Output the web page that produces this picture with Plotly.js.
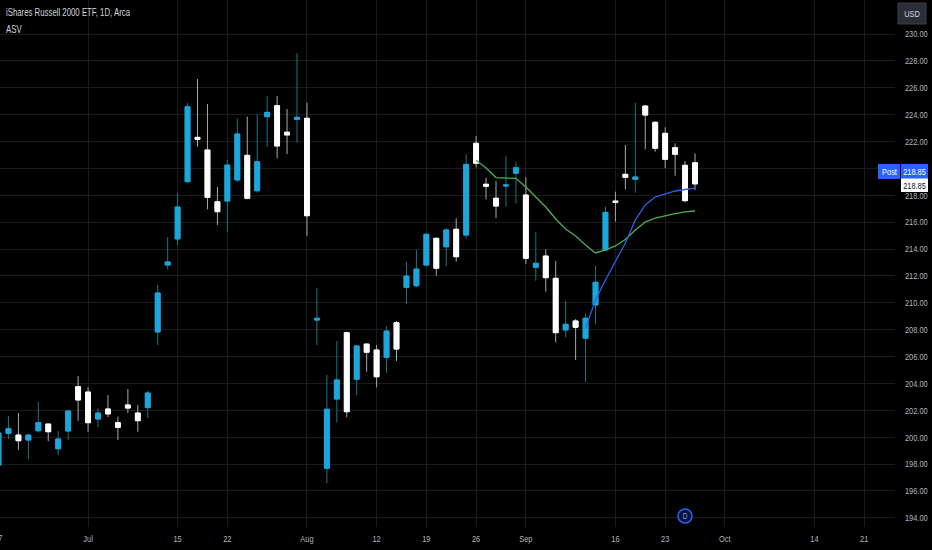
<!DOCTYPE html>
<html><head><meta charset="utf-8">
<script src="https://cdn.plot.ly/plotly-3.0.1.min.js"></script>
<style>html,body{margin:0;padding:0;background:#000;}#chart{width:932px;height:550px;}</style>
</head><body><div id="chart"></div>
<script>
// Trading days (index = position on the time axis)
const dates = ['2024-06-17','2024-06-18','2024-06-20','2024-06-21','2024-06-24','2024-06-25','2024-06-26','2024-06-27','2024-06-28',
'2024-07-01','2024-07-02','2024-07-03','2024-07-05','2024-07-08','2024-07-09','2024-07-10','2024-07-11','2024-07-12',
'2024-07-15','2024-07-16','2024-07-17','2024-07-18','2024-07-19','2024-07-22','2024-07-23','2024-07-24','2024-07-25','2024-07-26',
'2024-07-29','2024-07-30','2024-07-31','2024-08-01','2024-08-02','2024-08-05','2024-08-06','2024-08-07','2024-08-08','2024-08-09',
'2024-08-12','2024-08-13','2024-08-14','2024-08-15','2024-08-16','2024-08-19','2024-08-20','2024-08-21','2024-08-22','2024-08-23',
'2024-08-26','2024-08-27','2024-08-28','2024-08-29','2024-08-30','2024-09-03','2024-09-04','2024-09-05','2024-09-06',
'2024-09-09','2024-09-10','2024-09-11','2024-09-12','2024-09-13','2024-09-16','2024-09-17','2024-09-18','2024-09-19','2024-09-20',
'2024-09-23','2024-09-24','2024-09-25','2024-09-26'];
const open  = [197.93,200.29,200.16,199.79,200.48,200.98,199.14,200.46,203.76,203.36,201.35,202.10,201.08,202.40,201.80,202.20,207.83,212.81,
214.75,219.01,222.31,221.37,217.52,217.57,219.14,220.97,218.34,223.85,224.67,222.69,223.65,223.73,208.72,197.69,202.84,207.78,204.31,206.93,
206.49,205.94,208.52,211.15,211.27,212.81,214.80,214.17,215.47,215.04,221.87,218.82,217.78,218.69,219.64,218.02,212.64,213.48,211.82,
207.98,208.65,207.36,209.84,213.93,217.57,219.56,219.19,224.64,223.43,222.61,221.54,220.23,220.42];
const high  = [200.90,201.58,201.80,200.20,202.62,201.00,200.46,202.00,204.55,203.73,202.17,203.14,201.53,203.59,202.40,203.46,211.32,214.90,
218.17,224.87,226.65,224.79,218.64,220.63,223.73,223.85,224.03,225.39,225.39,224.42,228.56,224.89,211.08,204.63,207.16,207.85,206.80,206.98,
206.86,208.27,208.65,213.06,213.93,215.15,214.85,215.56,216.29,221.05,222.41,219.31,219.06,220.92,220.45,219.34,215.29,213.98,213.11,
210.13,208.80,209.22,212.74,217.15,218.27,221.74,224.89,224.70,223.50,223.06,221.87,220.55,221.12];
const low   = [197.50,199.87,199.05,198.38,200.35,199.70,198.68,199.79,201.23,200.41,200.76,201.50,199.79,201.80,200.41,201.43,206.86,212.50,
214.30,218.95,221.61,216.95,215.79,215.29,219.00,217.70,218.20,221.61,220.75,221.07,221.91,214.99,206.86,196.57,201.11,201.48,203.14,204.87,
203.71,204.80,205.67,209.89,211.20,212.70,212.02,212.74,213.06,214.80,220.08,217.70,216.29,217.15,217.40,212.89,211.64,210.83,207.06,
207.43,205.74,204.11,208.40,213.90,216.04,218.44,218.19,221.42,221.24,220.01,219.46,217.48,218.39];
const close = [200.31,200.63,199.74,200.16,201.08,200.41,199.87,201.95,202.77,201.08,201.80,201.73,200.74,202.17,201.23,203.29,210.73,213.04,
217.13,224.59,222.16,217.85,216.78,220.25,222.56,217.78,220.50,224.17,221.67,222.49,223.80,216.48,208.85,202.08,204.26,201.90,206.79,206.32,
204.50,207.90,206.56,211.99,212.51,215.10,212.57,215.42,213.43,220.30,220.38,218.67,217.20,218.77,220.05,213.31,212.94,211.87,207.78,
208.40,208.18,208.85,211.53,216.73,217.48,219.34,219.36,223.97,221.50,220.68,221.05,217.60,218.85];

// Indicator lines (ASV)
const greenStart = 48;
const greenLine = [220.60,220.03,219.32,219.29,219.26,218.62,217.87,217.13,216.24,215.49,214.97,214.30,213.71,213.93,214.23,214.71,215.42,216.01,216.31,216.50,216.64,216.76,216.83];
const blueStart = 59;
const blueLine = [208.10,210.21,211.70,213.04,214.45,216.16,217.28,217.87,218.10,218.32,218.43,218.54];

// Axis ticks
const xTickPos = [0,9,18,23,31,38,43,48,53,62,67,73,82,87];
const xTickText = ['17','Jul','15','22','Aug','12','19','26','Sep','16','23','Oct','14','21'];
const yTickVals = [194,196,198,200,202,204,206,208,210,212,214,216,218,220,222,224,226,228,230];
const lastPrice = 218.85;

const idx = dates.map((d,i)=>i);
const bodyHigh = open.map((o,i)=>Math.max(o,close[i]));
const bodyLow = open.map((o,i)=>Math.min(o,close[i]));
const UP = '#1ba7dc', UPW = '#1d7486', DN = '#ffffff', DNW = '#a8a8a8';

const traces = [
  {type:'candlestick', x:idx, open:open, high:high, low:low, close:close,
   increasing:{line:{color:UPW,width:1},fillcolor:UP}, decreasing:{line:{color:DNW,width:1},fillcolor:DN},
   whiskerwidth:0, hoverinfo:'skip', showlegend:false},
  {type:'candlestick', x:idx, open:open, high:bodyHigh, low:bodyLow, close:close,
   increasing:{line:{color:UP,width:1},fillcolor:UP}, decreasing:{line:{color:DN,width:1},fillcolor:DN},
   whiskerwidth:0, hoverinfo:'skip', showlegend:false},
  {type:'scatter', mode:'lines', x:greenLine.map((v,i)=>greenStart+i), y:greenLine,
   line:{color:'#4caf50',width:1.3}, hoverinfo:'skip', showlegend:false},
  {type:'scatter', mode:'lines', x:blueLine.map((v,i)=>blueStart+i), y:blueLine,
   line:{color:'#2f5fe8',width:1.3}, hoverinfo:'skip', showlegend:false}
];

const W = 895, H = 527; // plot area in px
const px = v => v / W;
const py = v => 1 - v / H;
const FONT = 'Liberation Sans, Arial, sans-serif';
const TXT = '#b2b5be';

const layout = {
  width:932, height:550,
  margin:{l:0,r:37,t:0,b:23,pad:0},
  paper_bgcolor:'#000', plot_bgcolor:'#000',
  font:{family:FONT, color:TXT, size:9.5},
  showlegend:false,
  xaxis:{range:[0.15,90.1], tickvals:xTickPos, ticktext:xTickText, showgrid:true, gridcolor:'#1b1b1b',
         zeroline:false, showline:false, ticks:'', rangeslider:{visible:false}, fixedrange:true,
         ticklabelstandoff:4, tickfont:{family:FONT,size:9.5,color:TXT}},
  yaxis:{range:[193.32,232.53], side:'right', tickvals:yTickVals, tickformat:'.2f', showgrid:true, gridcolor:'#1b1b1b',
         zeroline:false, showline:false, ticks:'', fixedrange:true, ticklabelstandoff:9,
         tickfont:{family:FONT,size:9.5,color:TXT}},
  shapes:[
    {type:'rect', xref:'paper', yref:'paper', x0:px(898), x1:px(926), y0:py(24), y1:py(3), fillcolor:'#2a2e39', line:{color:'#3a3e49',width:1}},
    {type:'rect', xref:'paper', yref:'paper', x0:px(878), x1:px(900), y0:py(179), y1:py(164), fillcolor:'#2962ff', line:{width:0}},
    {type:'rect', xref:'paper', yref:'paper', x0:px(901), x1:px(928), y0:py(179), y1:py(164), fillcolor:'#2962ff', line:{width:0}},
    {type:'rect', xref:'paper', yref:'paper', x0:px(901), x1:px(928), y0:py(192), y1:py(178.5), fillcolor:'#ffffff', line:{width:0}},
    {type:'circle', xref:'paper', yref:'paper', x0:px(678), x1:px(692), y0:py(523), y1:py(509), fillcolor:'#0b1430', line:{color:'#2962ff',width:1.5}}
  ],
  annotations:[
    {xref:'paper', yref:'paper', x:px(4), y:py(12.5), xanchor:'left', align:'left', yanchor:'middle', showarrow:false,
     text:'iShares Russell 2000 ETF, 1D, Arca', font:{family:FONT,size:10,color:'#d1d4dc'}},
    {xref:'paper', yref:'paper', x:px(4), y:py(29), xanchor:'left', align:'left', yanchor:'middle', showarrow:false,
     text:'ASV', font:{family:FONT,size:10,color:'#d1d4dc'}},
    {xref:'paper', yref:'paper', x:px(-1.5), y:py(537), xanchor:'center', yanchor:'middle', showarrow:false,
     text:xTickText[0], font:{family:FONT,size:9.5,color:TXT}},
    {xref:'paper', yref:'paper', x:px(912), y:py(13.5), xanchor:'center', yanchor:'middle', showarrow:false,
     text:'USD', font:{family:FONT,size:9.5,color:'#d1d4dc'}},
    {xref:'paper', yref:'paper', x:px(889), y:py(171.5), xanchor:'center', yanchor:'middle', showarrow:false,
     text:'Post', font:{family:FONT,size:9.5,color:'#ffffff'}},
    {xref:'paper', yref:'paper', x:px(914.5), y:py(171.5), xanchor:'center', yanchor:'middle', showarrow:false,
     text:lastPrice.toFixed(2), font:{family:FONT,size:9.5,color:'#ffffff'}},
    {xref:'paper', yref:'paper', x:px(914.5), y:py(185.3), xanchor:'center', yanchor:'middle', showarrow:false,
     text:lastPrice.toFixed(2), font:{family:FONT,size:9.5,color:'#131722'}},
    {xref:'paper', yref:'paper', x:px(685), y:py(516), xanchor:'center', yanchor:'middle', showarrow:false,
     text:'D', font:{family:FONT,size:8.5,color:'#6f95ff'}}
  ]
};

Plotly.newPlot('chart', traces, layout, {displayModeBar:false, staticPlot:true}).then(gd => {
  // the reference uses a condensed face: narrow the glyphs of every label, keeping its anchor point
  gd.querySelectorAll('svg text').forEach(t => {
    const len = t.getComputedTextLength();
    if (!(len > 0)) return;
    const b0 = t.getBBox();
    const anchor = getComputedStyle(t).textAnchor;
    t.setAttribute('textLength', (len * 0.78).toFixed(2));
    t.setAttribute('lengthAdjust', 'spacingAndGlyphs');
    const b1 = t.getBBox();
    let dx;
    if (anchor === 'middle') dx = (b0.x + b0.width / 2) - (b1.x + b1.width / 2);
    else if (anchor === 'end') dx = (b0.x + b0.width) - (b1.x + b1.width);
    else dx = b0.x - b1.x;
    if (Math.abs(dx) > 0.05) {
      const shift = el => { if (el.hasAttribute('x')) el.setAttribute('x', parseFloat(el.getAttribute('x')) + dx); };
      shift(t);
      t.querySelectorAll('tspan').forEach(shift);
    }
  });
});
</script></body></html>
